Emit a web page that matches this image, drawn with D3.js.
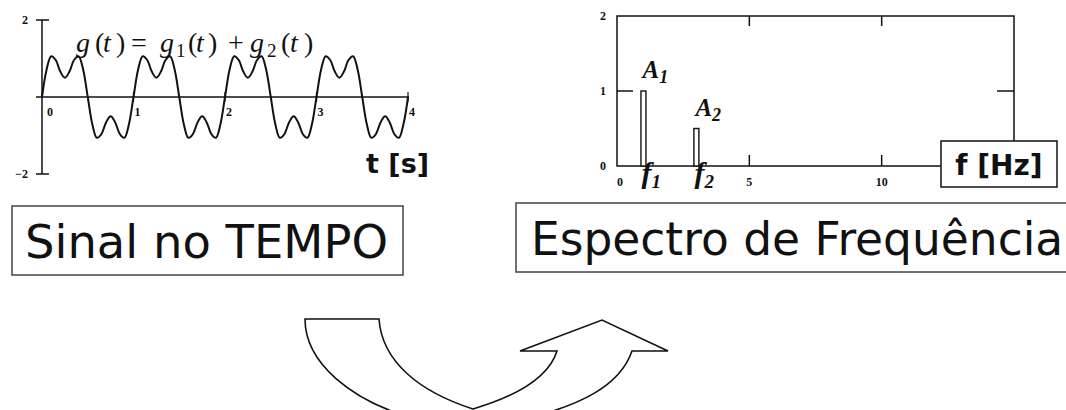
<!DOCTYPE html>
<html>
<head>
<meta charset="utf-8">
<script src="https://cdn.jsdelivr.net/npm/d3@7"></script>
<style>
  html, body { margin: 0; padding: 0; background: #fff; }
  svg { display: block; }
</style>
</head>
<body>
<svg id="chart" width="1066" height="410"></svg>
<script>
// ---- Time-domain signal g(t), sampled every 0.05 s over 0..4 s ----
const timeStep = 0.05;
const signalValues = [
  0, 0.71, 1.06, 0.96, 0.66, 0.5, 0.66, 0.96, 1.06, 0.71,
  0, -0.71, -1.06, -0.96, -0.66, -0.5, -0.66, -0.96, -1.06, -0.71,
  0, 0.71, 1.06, 0.96, 0.66, 0.5, 0.66, 0.96, 1.06, 0.71,
  0, -0.71, -1.06, -0.96, -0.66, -0.5, -0.66, -0.96, -1.06, -0.71,
  0, 0.71, 1.06, 0.96, 0.66, 0.5, 0.66, 0.96, 1.06, 0.71,
  0, -0.71, -1.06, -0.96, -0.66, -0.5, -0.66, -0.96, -1.06, -0.71,
  0, 0.71, 1.06, 0.96, 0.66, 0.5, 0.66, 0.96, 1.06, 0.71,
  0, -0.71, -1.06, -0.96, -0.66, -0.5, -0.66, -0.96, -1.06, -0.71,
  0
];
const timeTicks = [0, 1, 2, 3, 4];
const signalTicks = [2, -2];

// ---- Frequency spectrum: two components ----
const componentFreqs = [1, 3];        // f1, f2 in Hz
const componentAmps = [1, 0.5];       // A1, A2
const componentNames = ["1", "2"];
const freqTicks = [0, 5, 10];
const ampTicks = [0, 1, 2];

const svg = d3.select("#chart");
svg.append("rect").attr("width", 1066).attr("height", 410).attr("fill", "#fff");

const ink = "#111";
const tickFont = "'Liberation Serif', 'Times New Roman', serif";
const sansFont = "'DejaVu Sans', Verdana, sans-serif";

// ================= Left: signal in time =================
const xT = d3.scaleLinear().domain([0, 4]).range([42, 408]);
const yT = d3.scaleLinear().domain([-2, 2]).range([174, 20]);
const gT = svg.append("g");

// vertical axis with end ticks
gT.append("line").attr("x1", xT(0)).attr("x2", xT(0)).attr("y1", yT(2)).attr("y2", yT(-2))
  .attr("stroke", ink).attr("stroke-width", 1.5);
signalTicks.forEach(v => {
  gT.append("line").attr("x1", xT(0) - 6).attr("x2", xT(0) + 7).attr("y1", yT(v)).attr("y2", yT(v))
    .attr("stroke", ink).attr("stroke-width", 1.5);
  gT.append("text").attr("x", xT(0) - 14).attr("y", yT(v)).attr("dy", "0.35em")
    .attr("text-anchor", "end").attr("font-family", tickFont).attr("font-weight", "bold")
    .attr("font-size", 12).attr("fill", ink).text(v < 0 ? "\u2212" + Math.abs(v) : v);
});

// horizontal axis
gT.append("line").attr("x1", xT(0) - 6).attr("x2", xT(4) + 1).attr("y1", yT(0)).attr("y2", yT(0))
  .attr("stroke", ink).attr("stroke-width", 1.5);
timeTicks.forEach(v => {
  if (v > 0) {
    gT.append("line").attr("x1", xT(v)).attr("x2", xT(v)).attr("y1", yT(0) - 5).attr("y2", yT(0) + 5)
      .attr("stroke", ink).attr("stroke-width", 1.2);
  }
  gT.append("text").attr("x", xT(v) + (v === 0 ? 5 : 1)).attr("y", yT(0) + 19)
    .attr("font-family", tickFont).attr("font-weight", "bold")
    .attr("font-size", 12).attr("fill", ink).text(v);
});

// signal curve
const line = d3.line()
  .x((d, i) => xT(i * timeStep))
  .y(d => yT(d))
  .curve(d3.curveCatmullRom.alpha(0.5));
gT.append("path").datum(signalValues).attr("d", line)
  .attr("fill", "none").attr("stroke", ink).attr("stroke-width", 2);

// formula g(t) = g1(t) + g2(t)
const formula = gT.append("text").attr("y", 52).attr("font-family", tickFont)
  .attr("font-size", 28).attr("fill", ink);
const fParts = [
  { t: "g", x: 76, it: true }, { t: "(", x: 95 }, { t: "t", x: 103, it: true }, { t: ")", x: 116 },
  { t: "=", x: 131 },
  { t: "g", x: 160, it: true }, { t: "1", x: 176, sub: true }, { t: "(", x: 188 }, { t: "t", x: 196, it: true }, { t: ")", x: 208 },
  { t: "+", x: 228 },
  { t: "g", x: 250, it: true }, { t: "2", x: 267, sub: true }, { t: "(", x: 281 }, { t: "t", x: 290, it: true }, { t: ")", x: 304 }
];
fParts.forEach(p => {
  formula.append("tspan").attr("x", p.x).attr("y", p.sub ? 57 : 52)
    .attr("font-style", p.it ? "italic" : "normal")
    .attr("font-size", p.sub ? 19 : 28).text(p.t);
});

// axis title
gT.append("text").attr("x", 366).attr("y", 173).attr("font-family", sansFont)
  .attr("font-weight", "bold").attr("font-size", 27).attr("fill", ink).text("t [s]");

// ================= Right: frequency spectrum =================
const xF = d3.scaleLinear().domain([0, 15]).range([617, 1014]);
const yF = d3.scaleLinear().domain([0, 2]).range([166, 16]);
const gF = svg.append("g");

// frame
gF.append("path")
  .attr("d", `M${xF(15)},${yF(0)} L${xF(0)},${yF(0)} L${xF(0)},${yF(2)} L${xF(15)},${yF(2)} L${xF(15)},${yF(0)}`)
  .attr("fill", "none").attr("stroke", ink).attr("stroke-width", 1.5);

// inward ticks
freqTicks.filter(v => v > 0).forEach(v => {
  gF.append("line").attr("x1", xF(v)).attr("x2", xF(v)).attr("y1", yF(2)).attr("y2", yF(2) + 10)
    .attr("stroke", ink).attr("stroke-width", 1.5);
  gF.append("line").attr("x1", xF(v)).attr("x2", xF(v)).attr("y1", yF(0)).attr("y2", yF(0) - 11)
    .attr("stroke", ink).attr("stroke-width", 1.5);
});
ampTicks.filter(v => v > 0 && v < 2).forEach(v => {
  gF.append("line").attr("x1", xF(0)).attr("x2", xF(0) + 16).attr("y1", yF(v)).attr("y2", yF(v))
    .attr("stroke", ink).attr("stroke-width", 1.5);
  gF.append("line").attr("x1", xF(15)).attr("x2", xF(15) - 17).attr("y1", yF(v)).attr("y2", yF(v))
    .attr("stroke", ink).attr("stroke-width", 1.5);
});

// tick labels
ampTicks.forEach(v => {
  gF.append("text").attr("x", 606).attr("y", yF(v)).attr("dy", "0.35em").attr("text-anchor", "end")
    .attr("font-family", tickFont).attr("font-weight", "bold").attr("font-size", 12)
    .attr("fill", ink).text(v);
});
freqTicks.forEach(v => {
  gF.append("text").attr("x", xF(v) + (v === 0 ? 3 : 0)).attr("y", 186).attr("text-anchor", "middle")
    .attr("font-family", tickFont).attr("font-weight", "bold").attr("font-size", 12)
    .attr("fill", ink).text(v);
});

// spectral lines (hollow bars)
const barW = 5;
componentFreqs.forEach((f, i) => {
  gF.append("rect").attr("x", xF(f) - barW / 2).attr("y", yF(componentAmps[i]))
    .attr("width", barW).attr("height", yF(0) - yF(componentAmps[i]))
    .attr("fill", "#fff").attr("stroke", ink).attr("stroke-width", 1.4);
});

// amplitude labels A1, A2 and frequency labels f1, f2
const serifLabel = (x, y, main, sub, size, subSize) => {
  const t = gF.append("text").attr("x", x).attr("y", y).attr("font-family", tickFont)
    .attr("font-weight", "bold").attr("font-style", "italic").attr("fill", ink);
  t.append("tspan").attr("font-size", size).text(main);
  t.append("tspan").attr("font-size", subSize).attr("dy", 5).text(sub);
};
componentFreqs.forEach((f, i) => {
  serifLabel(xF(f) - 1, yF(componentAmps[i]) - 13, "A", componentNames[i], 25, 18);
  serifLabel(xF(f) - 2, 183, "f", componentNames[i], 30, 19);
});

// axis title box
gF.append("rect").attr("x", 941).attr("y", 141).attr("width", 116).attr("height", 46)
  .attr("fill", "#fff").attr("stroke", ink).attr("stroke-width", 1.5);
gF.append("text").attr("x", 999).attr("y", 175).attr("text-anchor", "middle")
  .attr("font-family", sansFont).attr("font-weight", "bold").attr("font-size", 28)
  .attr("fill", ink).text("f [Hz]");

// ================= Caption boxes =================
svg.append("rect").attr("x", 12).attr("y", 206).attr("width", 391).attr("height", 69)
  .attr("fill", "#fff").attr("stroke", "#444").attr("stroke-width", 1.5);
svg.append("text").attr("x", 25).attr("y", 258).attr("font-family", sansFont)
  .attr("font-size", 46).attr("textLength", 363).attr("lengthAdjust", "spacingAndGlyphs")
  .attr("fill", ink).text("Sinal no TEMPO");

svg.append("rect").attr("x", 516).attr("y", 203).attr("width", 570).attr("height", 69)
  .attr("fill", "#fff").attr("stroke", "#444").attr("stroke-width", 1.5);
svg.append("text").attr("x", 531).attr("y", 255).attr("font-family", sansFont)
  .attr("font-size", 45.5)
  .attr("fill", ink).text("Espectro de Frequência");

// ================= Curved transform arrow =================
svg.append("path")
  .attr("d", [
    "M305,319 L379,319",
    "C382,362 420,392 473,409",
    "C510,398 548,380 557,351",
    "L520,351 L602,320 L668,351 L632,351",
    "C620,386 580,406 520,420",
    "L420,420",
    "C350,402 305,362 305,319 Z"
  ].join(" "))
  .attr("fill", "#fff").attr("stroke", ink).attr("stroke-width", 1.6)
  .attr("stroke-linejoin", "miter");
</script>
</body>
</html>
